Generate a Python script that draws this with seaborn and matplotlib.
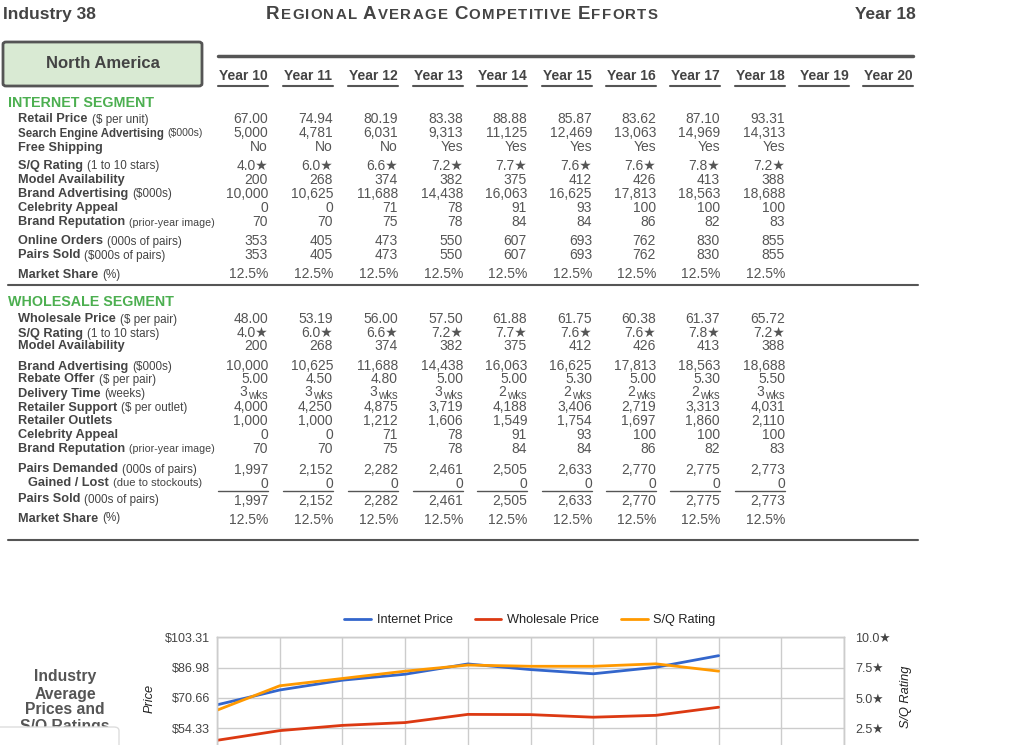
import matplotlib
matplotlib.use("Agg")
import matplotlib.pyplot as plt
import seaborn as sns
from matplotlib.patches import FancyBboxPatch
from matplotlib.lines import Line2D

year_headers = ["Year 10", "Year 11", "Year 12", "Year 13", "Year 14", "Year 15",
                "Year 16", "Year 17", "Year 18", "Year 19", "Year 20"]
years = [10, 11, 12, 13, 14, 15, 16, 17, 18, 19, 20]
data_years = [10, 11, 12, 13, 14, 15, 16, 17, 18]

# internet segment
internet_price = [67.00, 74.94, 80.19, 83.38, 88.88, 85.87, 83.62, 87.10, 93.31]
search_adv = [5000, 4781, 6031, 9313, 11125, 12469, 13063, 14969, 14313]
free_shipping = ["No", "No", "No", "Yes", "Yes", "Yes", "Yes", "Yes", "Yes"]
sq_rating = [4.0, 6.0, 6.6, 7.2, 7.7, 7.6, 7.6, 7.8, 7.2]
model_avail = [200, 268, 374, 382, 375, 412, 426, 413, 388]
brand_adv = [10000, 10625, 11688, 14438, 16063, 16625, 17813, 18563, 18688]
celebrity = [0, 0, 71, 78, 91, 93, 100, 100, 100]
brand_rep = [70, 70, 75, 78, 84, 84, 86, 82, 83]
online_orders = [353, 405, 473, 550, 607, 693, 762, 830, 855]
internet_sold = [353, 405, 473, 550, 607, 693, 762, 830, 855]
internet_share = [12.5, 12.5, 12.5, 12.5, 12.5, 12.5, 12.5, 12.5, 12.5]

# wholesale segment
wholesale_price = [48.00, 53.19, 56.00, 57.50, 61.88, 61.75, 60.38, 61.37, 65.72]
rebate = [5.00, 4.50, 4.80, 5.00, 5.00, 5.30, 5.00, 5.30, 5.50]
delivery_wks = [3, 3, 3, 3, 2, 2, 2, 2, 3]
retailer_support = [4000, 4250, 4875, 3719, 4188, 3406, 2719, 3313, 4031]
retailer_outlets = [1000, 1000, 1212, 1606, 1549, 1754, 1697, 1860, 2110]
pairs_demanded = [1997, 2152, 2282, 2461, 2505, 2633, 2770, 2775, 2773]
gained_lost = [0, 0, 0, 0, 0, 0, 0, 0, 0]
wholesale_sold = [1997, 2152, 2282, 2461, 2505, 2633, 2770, 2775, 2773]
wholesale_share = [12.5, 12.5, 12.5, 12.5, 12.5, 12.5, 12.5, 12.5, 12.5]

# chart axes (lowest value is the hidden bottom of the chart)
price_ticks = [38.00, 54.33, 70.66, 86.98, 103.31]
sq_ticks = [0.0, 2.5, 5.0, 7.5, 10.0]

# ---- style ----
LAB = "#444444"
VAL = "#555555"
GREEN = "#4caf50"
BLUE, RED, ORANGE = "#3366cc", "#dc3912", "#ff9900"

sns.set_style("white")
plt.rcParams["font.family"] = ["Liberation Sans", "DejaVu Sans"]

W, H = 1029, 745
fig = plt.figure(figsize=(W / 100, H / 100), dpi=100)
renderer = fig.canvas.get_renderer()


def txt(x, y, s, **kw):
    return fig.text(x / W, 1 - y / H, s, **kw)


def hline(x1, x2, y, lw=1.5, color="#555555"):
    fig.add_artist(Line2D([x1 / W, x2 / W], [1 - y / H, 1 - y / H],
                          transform=fig.transFigure, lw=lw, color=color))


def label(x, yc, bold, unit="", size=9.2, usize=8.4):
    yb = yc + 4.5
    t = txt(x, yb, bold, fontsize=size, fontweight="bold", color=LAB, va="baseline")
    if unit:
        w = t.get_window_extent(renderer).width
        txt(x + w + 4, yb, unit, fontsize=usize, color=LAB, va="baseline")


col_right = [268, 333, 398, 463, 527, 592, 656, 720, 785, 849, 913]


def row(yc, values):
    for i, s in enumerate(values):
        txt(col_right[i], yc + 5, s, ha="right", va="baseline", fontsize=10, color=VAL)


def weeks_row(yc, values):
    for i, n in enumerate(values):
        r = col_right[i]
        t = txt(r, yc + 7, "wks", ha="right", va="baseline", fontsize=8.3, color=VAL)
        w = t.get_window_extent(renderer).width
        txt(r - w - 1, yc + 4.5, str(n), ha="right", va="baseline", fontsize=10, color=VAL)


money = lambda v: [f"{x:.2f}" for x in v]
ints = lambda v: [f"{x:,}" for x in v]
stars = lambda v: [f"{x:.1f}\u2605" for x in v]
pcts = lambda v: [f"{x:.1f}%" for x in v]

# ---- header ----
txt(3, 19, "Industry 38", fontsize=12.5, fontweight="bold", color=LAB, va="baseline")
txt(916, 19, "Year 18", fontsize=12.5, fontweight="bold", color=LAB, va="baseline", ha="right")

# small-caps title, drawn letter by letter
x = 266
for word in ["Regional", "Average", "Competitive", "Efforts"]:
    for i, ch in enumerate(word.upper()):
        t = txt(x, 19, ch, fontsize=13.5 if i == 0 else 10.8, fontweight="bold",
                color=LAB, va="baseline")
        x += t.get_window_extent(renderer).width + 1.3
    x += 5

box = FancyBboxPatch((3 / W, 1 - 86 / H), 199 / W, 44 / H,
                     boxstyle="round,pad=0,rounding_size=0.003",
                     transform=fig.transFigure, fc="#d9ead3", ec="#555555", lw=2)
fig.add_artist(box)
txt(103, 64, "North America", fontsize=12, fontweight="bold", color=LAB,
    ha="center", va="center")

hline(218, 913, 56, lw=2.5)
for i, h in enumerate(year_headers):
    txt(col_right[i] - 25, 80, h, fontsize=10, fontweight="bold", color=LAB,
        ha="center", va="baseline")
    hline(col_right[i] - 50, col_right[i], 86, lw=1.5)

# ---- internet segment ----
txt(8, 102 + 5, "INTERNET SEGMENT", fontsize=10.3, fontweight="bold", color=GREEN, va="baseline")
label(18, 118, "Retail Price", "($ per unit)")
row(118, money(internet_price))
label(18, 132, "Search Engine Advertising", "($000s)", size=8.3, usize=7.6)
row(132, ints(search_adv))
label(18, 146, "Free Shipping")
row(146, free_shipping)
label(18, 165, "S/Q Rating", "(1 to 10 stars)")
row(165, stars(sq_rating))
label(18, 179, "Model Availability")
row(179, ints(model_avail))
label(18, 193, "Brand Advertising", "($000s)")
row(193, ints(brand_adv))
label(18, 207, "Celebrity Appeal")
row(207, ints(celebrity))
label(18, 221, "Brand Reputation", "(prior-year image)", usize=7.7)
row(221, ints(brand_rep))
label(18, 240, "Online Orders", "(000s of pairs)")
row(240, ints(online_orders))
label(18, 254, "Pairs Sold", "($000s of pairs)")
row(254, ints(internet_sold))
label(18, 273, "Market Share", "(%)")
row(273, pcts(internet_share))
hline(8, 918, 285)

# ---- wholesale segment ----
txt(8, 301 + 5, "WHOLESALE SEGMENT", fontsize=10.3, fontweight="bold", color=GREEN, va="baseline")
label(18, 318, "Wholesale Price", "($ per pair)")
row(318, money(wholesale_price))
label(18, 332, "S/Q Rating", "(1 to 10 stars)")
row(332, stars(sq_rating))
label(18, 345, "Model Availability")
row(345, ints(model_avail))
label(18, 365, "Brand Advertising", "($000s)")
row(365, ints(brand_adv))
label(18, 378, "Rebate Offer", "($ per pair)")
row(378, money(rebate))
label(18, 392, "Delivery Time", "(weeks)")
weeks_row(392, delivery_wks)
label(18, 406, "Retailer Support", "($ per outlet)")
row(406, ints(retailer_support))
label(18, 420, "Retailer Outlets")
row(420, ints(retailer_outlets))
label(18, 434, "Celebrity Appeal")
row(434, ints(celebrity))
label(18, 448, "Brand Reputation", "(prior-year image)", usize=7.7)
row(448, ints(brand_rep))
label(18, 468, "Pairs Demanded", "(000s of pairs)")
row(469, ints(pairs_demanded))
label(28, 482, "Gained / Lost", "(due to stockouts)", usize=8.0)
row(483, ints(gained_lost))
for i in range(len(data_years)):
    hline(col_right[i] - 50, col_right[i], 491, lw=1)
label(18, 498, "Pairs Sold", "(000s of pairs)")
row(500, ints(wholesale_sold))
label(18, 517, "Market Share", "(%)")
row(519, pcts(wholesale_share))
hline(8, 918, 540)

# ---- chart ----
ax = fig.add_axes([217 / W, 1 - 759 / H, 627 / W, 122 / H])
sns.lineplot(x=data_years, y=internet_price, ax=ax, color=BLUE, lw=2)
sns.lineplot(x=data_years, y=wholesale_price, ax=ax, color=RED, lw=2)
ax.set_xlim(years[0], years[-1])
ax.set_ylim(price_ticks[0], price_ticks[-1])
ax.set_xticks(years)
ax.set_yticks(price_ticks[1:])
ax.set_yticklabels([f"${v:.2f}" for v in price_ticks[1:]])
ax.grid(True, color="#cccccc", lw=1)
ax.tick_params(length=0, labelbottom=False, labelsize=9, colors="#444444", pad=5)
ax.set_xlabel("")
ax.set_ylabel("")
for s in ax.spines.values():
    s.set_color("#cccccc")
    s.set_linewidth(1)

ax2 = ax.twinx()
sns.lineplot(x=data_years, y=sq_rating, ax=ax2, color=ORANGE, lw=2)
ax2.set_ylim(sq_ticks[0], sq_ticks[-1])
ax2.set_yticks(sq_ticks[1:])
ax2.set_yticklabels([f"{v:.1f}\u2605" for v in sq_ticks[1:]])
ax2.grid(False)
ax2.tick_params(length=0, labelsize=9, colors="#444444", pad=8)
ax2.set_ylabel("")
for s in ax2.spines.values():
    s.set_color("#cccccc")
    s.set_linewidth(1)

handles = [Line2D([], [], color=BLUE, lw=2), Line2D([], [], color=RED, lw=2),
           Line2D([], [], color=ORANGE, lw=2)]
fig.legend(handles, ["Internet Price", "Wholesale Price", "S/Q Rating"],
           loc="center", bbox_to_anchor=(530 / W, 1 - 620 / H), ncol=3,
           frameon=False, fontsize=9.2, handlelength=2.1, handletextpad=0.45,
           columnspacing=1.7, labelcolor="#222222")

txt(150, 698, "Price", rotation=90, fontsize=9.2, fontstyle="italic", color="#222222",
    ha="center", va="center")
txt(906, 697, "S/Q Rating", rotation=90, fontsize=9.2, fontstyle="italic", color="#222222",
    ha="center", va="center")

for s, y in zip(["Industry", "Average", "Prices and", "S/Q Ratings"], [677, 694, 710, 727]):
    txt(65, y, s, fontsize=11.3, fontweight="bold", color=VAL, ha="center", va="center")

# panel edge that hides the bottom of the chart title
cover = FancyBboxPatch((-5 / W, 1 - 770 / H), 124 / W, 43 / H,
                       boxstyle="round,pad=0,rounding_size=0.005",
                       transform=fig.transFigure, fc="white", ec="#dddddd", lw=1, zorder=20)
fig.add_artist(cover)

fig.savefig("out.png", dpi=100)
